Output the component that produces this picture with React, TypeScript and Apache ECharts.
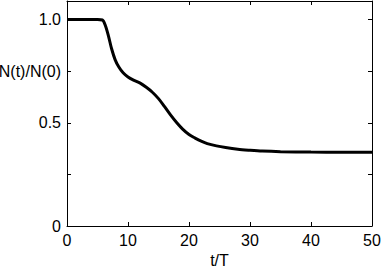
import React, { useEffect, useRef } from "react";
import * as echarts from "echarts";

const tValues = [0, 5, 5.8, 6.3, 6.8, 7.3, 7.9, 8.5, 9.2, 10, 10.9, 12, 13, 14, 15, 16, 17, 18, 19, 20, 21, 22, 23, 24.5, 26, 28, 30, 32, 35, 40, 45, 50];
const nValues = [1.0, 1.0, 0.998, 0.97, 0.92, 0.86, 0.805, 0.77, 0.742, 0.722, 0.707, 0.692, 0.672, 0.648, 0.617, 0.578, 0.537, 0.5, 0.468, 0.443, 0.426, 0.411, 0.399, 0.388, 0.38, 0.372, 0.367, 0.363, 0.36, 0.358, 0.357, 0.357];
const yTickLabels: Record<string, string> = { "0": "0", "0.5": "0.5", "0.75": "N(t)/N(0)", "1": "1.0" };
const xName = "t/T";

const FONT = "Liberation Sans, Arial, Helvetica, sans-serif";

const mkLine = () => ({ show: true, onZero: false, lineStyle: { color: "#000", width: 1 } });
const mkTick = () => ({ show: true, inside: true, length: 4, lineStyle: { color: "#000", width: 1 } });

export default function App() {
  const ref = useRef<HTMLDivElement>(null);
  useEffect(() => {
    if (!ref.current) return;
    const chart = echarts.init(ref.current, null, { renderer: "svg" });
    chart.setOption({
      animation: false,
      backgroundColor: "#fff",
      grid: { left: 67, right: 10, top: 1, bottom: 46, containLabel: false, outerBoundsMode: "none" },
      xAxis: [
        {
          type: "value",
          min: 0,
          max: 50,
          interval: 10,
          position: "bottom",
          axisLine: mkLine(),
          axisTick: mkTick(),
          splitLine: { show: false },
          axisLabel: { color: "#000", fontSize: 16, fontFamily: FONT, margin: 6 },
          name: xName,
          nameLocation: "middle",
          nameGap: 26,
          nameTextStyle: { color: "#000", fontSize: 16, fontFamily: FONT },
        },
        {
          type: "value",
          min: 0,
          max: 50,
          interval: 10,
          position: "top",
          axisLine: mkLine(),
          axisTick: mkTick(),
          splitLine: { show: false },
          axisLabel: { show: false },
        },
      ],
      yAxis: [
        {
          type: "value",
          min: 0,
          max: 1.09,
          interval: 0.25,
          position: "left",
          axisLine: mkLine(),
          axisTick: mkTick(),
          splitLine: { show: false },
          axisLabel: {
            color: "#000",
            fontSize: 16,
            fontFamily: FONT,
            margin: 6,
            showMaxLabel: false,
            formatter: (v: number) => {
              const key = String(Math.round(v * 100) / 100);
              return yTickLabels[key] ?? "";
            },
          },
        },
        {
          type: "value",
          min: 0,
          max: 1.09,
          interval: 0.25,
          position: "right",
          axisLine: mkLine(),
          axisTick: mkTick(),
          splitLine: { show: false },
          axisLabel: { show: false },
        },
      ],
      series: [
        {
          type: "line",
          data: tValues.map((t, i) => [t, nValues[i]]),
          smooth: 0.3,
          showSymbol: false,
          lineStyle: { color: "#000", width: 3 },
          xAxisIndex: 0,
          yAxisIndex: 0,
        },
      ],
    });
    return () => chart.dispose();
  }, []);
  return <div ref={ref} style={{ width: 382, height: 272, position: "absolute", left: 0, top: 0 }} />;
}
